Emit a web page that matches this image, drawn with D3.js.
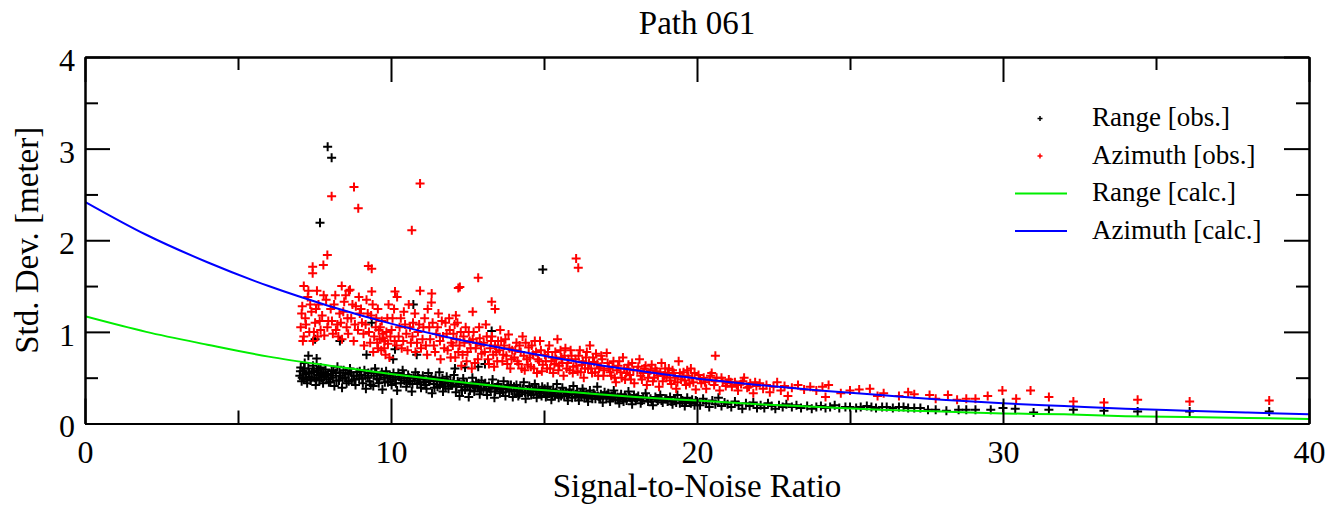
<!DOCTYPE html>
<html>
<head>
<meta charset="utf-8">
<script src="https://cdn.jsdelivr.net/npm/d3@7"></script>
<style>
  html, body { margin: 0; padding: 0; background: #ffffff; }
  svg { display: block; }
  svg text { font-family: "Liberation Serif", "Times New Roman", Times, "Nimbus Roman", "DejaVu Serif", serif !important; fill: #000; }
</style>
</head>
<body>
<svg id="chart" width="1332" height="507"></svg>
<script>
// ---- data -------------------------------------------------------------
const chartTitle = "Path 061";
const xTitle = "Signal-to-Noise Ratio";
const yTitle = "Std. Dev. [meter]";
const seriesNames = ["Range [obs.]", "Azimuth [obs.]", "Range [calc.]", "Azimuth [calc.]"];

const xMajorTicks = [0, 10, 20, 30, 40];
const xMinorTicks = [5, 15, 25, 35];
const yMajorTicks = [0, 1, 2, 3, 4];
const yMinorTicks = [0.5, 1.5, 2.5, 3.5];

// model curves, sampled every 2 SNR units
const calcSnr = [0, 2, 4, 6, 8, 10, 12, 14, 16, 18, 20, 22, 24, 26, 28, 30, 32, 34, 36, 38, 40];
const rangeCalc = [1.17, 1.00, 0.86, 0.73, 0.63, 0.54, 0.46, 0.39, 0.34, 0.29, 0.25, 0.21, 0.18, 0.15, 0.13, 0.11, 0.10, 0.08, 0.07, 0.06, 0.05];
const azimuthCalc = [2.42, 2.06, 1.76, 1.50, 1.28, 1.09, 0.93, 0.80, 0.68, 0.58, 0.49, 0.42, 0.36, 0.31, 0.26, 0.22, 0.19, 0.16, 0.14, 0.12, 0.10];

// observed range std. dev. [snr, meter]
const rangeObs = [
  [7.02,0.52],[7.05,0.61],[7.08,0.46],[7.12,0.57],[7.15,0.49],[7.18,0.66],[7.22,0.54],[7.26,0.44],[7.3,0.6],[7.33,0.51],[7.37,0.47],[7.41,0.56],[7.45,0.63],[7.5,0.5],[7.54,0.42],[7.58,0.58],[7.62,0.53],[7.66,0.47],[7.7,0.61],[7.74,0.55],[7.78,0.44],[7.82,0.51],[7.86,0.59],[7.9,0.48],[7.95,0.54],
  [7.04,0.57],[7.1,0.5],[7.16,0.6],[7.24,0.48],[7.32,0.55],[7.4,0.5],[7.48,0.57],[7.56,0.48],[7.64,0.6],[7.72,0.5],[7.8,0.56],[7.88,0.53],[7.97,0.45],
  [8.02,0.45],[8.06,0.57],[8.1,0.5],[8.15,0.41],[8.2,0.55],[8.25,0.62],[8.3,0.47],[8.35,0.52],[8.4,0.39],[8.45,0.58],[8.5,0.5],[8.55,0.44],[8.6,0.54],[8.66,0.6],[8.72,0.47],[8.78,0.52],[8.84,0.42],[8.9,0.56],[8.96,0.49],
  [8.04,0.52],[8.12,0.58],[8.22,0.47],[8.32,0.56],[8.42,0.49],[8.52,0.55],[8.62,0.46],[8.7,0.56],[8.8,0.48],[8.88,0.52],[8.98,0.57],
  [9.03,0.53],[9.08,0.44],[9.13,0.58],[9.18,0.38],[9.24,0.5],[9.3,0.46],[9.36,0.55],[9.42,0.41],[9.48,0.6],[9.54,0.49],[9.6,0.44],[9.66,0.53],[9.72,0.37],[9.78,0.5],[9.84,0.57],[9.9,0.45],[9.96,0.52],
  [9.06,0.49],[9.16,0.52],[9.26,0.55],[9.34,0.42],[9.44,0.52],[9.52,0.55],[9.62,0.48],[9.7,0.56],[9.8,0.45],[9.88,0.52],[9.98,0.46],
  [10.02,0.42],[10.08,0.55],[10.14,0.48],[10.2,0.36],[10.26,0.51],[10.32,0.44],[10.38,0.58],[10.44,0.47],[10.5,0.4],[10.56,0.53],[10.62,0.46],[10.68,0.35],[10.74,0.5],[10.8,0.56],[10.86,0.43],[10.92,0.49],[10.98,0.39],
  [10.06,0.5],[10.16,0.44],[10.24,0.55],[10.34,0.49],[10.42,0.53],[10.52,0.45],[10.6,0.5],[10.7,0.43],[10.78,0.47],[10.88,0.52],[10.96,0.45],
  [11.04,0.52],[11.1,0.45],[11.16,0.38],[11.22,0.55],[11.28,0.48],[11.34,0.33],[11.4,0.43],[11.46,0.5],[11.52,0.4],[11.58,0.56],[11.64,0.46],[11.7,0.35],[11.76,0.44],[11.82,0.51],[11.88,0.38],[11.94,0.47],
  [11.06,0.48],[11.14,0.42],[11.24,0.46],[11.32,0.51],[11.42,0.39],[11.5,0.46],[11.6,0.42],[11.68,0.49],[11.78,0.4],[11.86,0.45],[11.96,0.42],
  [12.0,0.42],[12.06,0.53],[12.12,0.34],[12.18,0.46],[12.24,0.3],[12.3,0.4],[12.36,0.49],[12.42,0.37],[12.48,0.44],[12.54,0.29],[12.6,0.41],[12.66,0.5],[12.72,0.35],[12.78,0.45],[12.84,0.39],[12.9,0.32],[12.96,0.47],
  [12.04,0.46],[12.14,0.4],[12.22,0.44],[12.32,0.36],[12.4,0.43],[12.5,0.4],[12.58,0.36],[12.68,0.42],[12.76,0.4],[12.86,0.44],[12.94,0.37],
  [13.02,0.38],[13.08,0.44],[13.14,0.31],[13.2,0.41],[13.26,0.35],[13.32,0.48],[13.38,0.28],[13.44,0.39],[13.5,0.43],[13.56,0.33],[13.62,0.37],[13.68,0.46],[13.74,0.3],[13.8,0.4],[13.86,0.35],[13.92,0.42],[13.98,0.29],
  [13.04,0.42],[13.12,0.36],[13.22,0.38],[13.3,0.42],[13.4,0.35],[13.48,0.4],[13.58,0.38],[13.66,0.34],[13.76,0.38],[13.84,0.42],[13.94,0.36],
  [14.04,0.36],[14.1,0.42],[14.16,0.3],[14.22,0.39],[14.28,0.34],[14.34,0.45],[14.4,0.27],[14.46,0.37],[14.52,0.41],[14.58,0.31],[14.64,0.35],[14.7,0.43],[14.76,0.28],[14.82,0.38],[14.88,0.33],[14.94,0.4],
  [14.02,0.4],[14.12,0.35],[14.2,0.32],[14.3,0.38],[14.38,0.34],[14.48,0.33],[14.56,0.37],[14.66,0.32],[14.74,0.37],[14.84,0.35],[14.92,0.3],
  [15.0,0.35],[15.06,0.29],[15.12,0.4],[15.18,0.33],[15.24,0.26],[15.3,0.37],[15.36,0.31],[15.42,0.43],[15.48,0.28],[15.54,0.35],[15.6,0.39],[15.66,0.3],[15.72,0.34],[15.78,0.25],[15.84,0.37],[15.9,0.32],[15.96,0.41],
  [15.02,0.38],[15.1,0.32],[15.2,0.35],[15.28,0.3],[15.38,0.34],[15.46,0.32],[15.56,0.3],[15.64,0.35],[15.74,0.31],[15.82,0.33],[15.92,0.28],
  [16.02,0.29],[16.08,0.35],[16.14,0.25],[16.2,0.33],[16.26,0.38],[16.32,0.28],[16.38,0.31],[16.44,0.24],[16.5,0.36],[16.56,0.3],[16.62,0.33],[16.68,0.27],[16.74,0.4],[16.8,0.29],[16.86,0.32],[16.92,0.23],[16.98,0.34],
  [16.04,0.32],[16.12,0.3],[16.22,0.3],[16.3,0.34],[16.4,0.29],[16.48,0.32],[16.58,0.27],[16.66,0.31],[16.76,0.3],[16.84,0.27],[16.94,0.3],
  [17.04,0.28],[17.1,0.33],[17.16,0.24],[17.22,0.3],[17.28,0.36],[17.34,0.26],[17.4,0.29],[17.46,0.22],[17.52,0.32],[17.58,0.27],[17.64,0.3],[17.7,0.25],[17.76,0.35],[17.82,0.28],[17.88,0.21],[17.94,0.31],
  [17.06,0.31],[17.14,0.27],[17.24,0.29],[17.32,0.31],[17.42,0.26],[17.5,0.29],[17.6,0.24],[17.68,0.28],[17.78,0.3],[17.86,0.25],[17.96,0.28],
  [18.0,0.26],[18.08,0.3],[18.16,0.22],[18.24,0.28],[18.32,0.33],[18.4,0.24],[18.48,0.27],[18.56,0.2],[18.64,0.29],[18.72,0.25],[18.8,0.31],[18.88,0.23],[18.96,0.27],
  [18.04,0.28],[18.2,0.25],[18.36,0.28],[18.52,0.24],[18.68,0.27],[18.84,0.25],[19.0,0.27],[19.16,0.24],[19.32,0.23],[19.48,0.27],[19.64,0.24],[19.8,0.22],[19.96,0.25],
  [19.04,0.24],[19.12,0.29],[19.2,0.21],[19.28,0.26],[19.36,0.31],[19.44,0.22],[19.52,0.25],[19.6,0.19],[19.68,0.28],[19.76,0.23],[19.84,0.26],[19.92,0.2],
  [20.0,0.24],[20.1,0.2],[20.2,0.27],[20.3,0.22],[20.4,0.18],[20.5,0.25],[20.6,0.21],[20.7,0.28],[20.8,0.19],[20.9,0.23],
  [21.0,0.21],[21.12,0.18],[21.24,0.24],[21.36,0.2],[21.48,0.16],[21.6,0.22],[21.72,0.19],[21.84,0.23],[21.96,0.17],
  [22.08,0.2],[22.2,0.17],[22.32,0.22],[22.44,0.19],[22.56,0.16],[22.68,0.2],[22.8,0.18],[22.92,0.21],
  [23.1,0.18],[23.25,0.2],[23.4,0.17],[23.6,0.19],[23.75,0.16],[23.9,0.18],[24.05,0.19],[24.2,0.17],[24.35,0.18],[24.5,0.2],[24.65,0.17],[24.85,0.18],[25.0,0.18],[25.2,0.17],[25.35,0.18],[25.55,0.19],[25.7,0.18],[25.85,0.17],[26.05,0.18],[26.2,0.18],[26.4,0.17],[26.6,0.18],[26.75,0.18],[26.9,0.17],[27.1,0.17],[27.3,0.17],[27.55,0.15],[27.8,0.15],[28.15,0.14],[28.55,0.15],[28.8,0.15],[29.1,0.15],[29.6,0.15],
  [30.0,0.17],[30.4,0.16],[31.0,0.12],[31.5,0.15],[32.3,0.15],[33.3,0.14],[34.4,0.13],[36.1,0.13],[38.7,0.13],
  [7.93,3.02],[8.06,2.9],[7.68,2.19],[14.96,1.68],[10.73,1.3],[9.37,1.1],[13.29,1.01],[7.52,0.92],[8.33,0.9],[10.13,0.81],[9.2,0.75],[10.84,0.75],[7.3,0.74],[10.07,0.7],[7.57,0.71],[12.09,0.6],[12.42,0.61],[12.85,0.62],[13.07,0.65]
];

// observed azimuth std. dev. [snr, meter]
const azimuthObs = [
  [7.05,1.05],[7.1,1.28],[7.15,0.95],[7.2,1.15],[7.28,1.38],[7.33,1.0],[7.4,1.22],[7.45,0.9],[7.52,1.1],[7.58,1.45],[7.63,1.3],[7.7,1.02],[7.75,1.18],[7.82,0.96],[7.88,1.35],[7.95,1.12],[7.15,1.5],[7.3,1.45],
  [7.08,1.2],[7.22,1.08],[7.36,1.3],[7.48,1.0],[7.55,1.25],[7.67,1.12],[7.8,1.4],[7.92,1.05],[7.12,0.9],[7.6,0.95],
  [8.03,1.25],[8.1,0.98],[8.18,1.4],[8.25,1.08],[8.32,1.2],[8.4,0.92],[8.47,1.33],[8.55,1.05],[8.62,1.45],[8.7,1.15],[8.78,0.9],[8.85,1.28],[8.92,1.02],[8.98,1.2],[8.39,1.5],[8.66,1.46],
  [8.07,1.12],[8.14,1.3],[8.28,0.95],[8.36,1.1],[8.44,1.22],[8.52,1.4],[8.6,0.98],[8.74,1.3],[8.82,1.08],[8.95,1.38],[8.2,1.02],[8.58,1.15],
  [9.05,1.1],[9.12,0.85],[9.2,1.35],[9.28,1.0],[9.35,1.18],[9.42,0.78],[9.5,1.05],[9.57,1.25],[9.63,0.92],[9.7,1.12],[9.78,0.82],[9.85,1.0],[9.92,1.3],[9.98,0.95],[9.37,1.44],
  [9.45,0.95],[9.55,0.88],[9.6,1.02],[9.68,0.8],[9.75,0.93],[9.82,0.75],[9.9,0.87],[9.95,0.72],
  [9.02,1.25],[9.1,0.98],[9.17,1.08],[9.24,1.2],[9.32,0.88],[9.4,1.3],[9.52,1.15],[9.65,1.05],[9.72,0.98],[9.88,1.15],[9.58,0.82],[9.8,0.9],
  [10.05,1.15],[10.12,0.9],[10.2,1.38],[10.28,1.05],[10.35,0.82],[10.42,1.22],[10.5,0.98],[10.58,1.3],[10.65,0.88],[10.72,1.1],[10.8,0.78],[10.88,1.0],[10.95,1.45],[10.13,1.44],
  [10.02,1.02],[10.1,1.25],[10.18,0.85],[10.25,0.95],[10.32,1.15],[10.4,0.9],[10.46,1.08],[10.54,0.8],[10.62,1.05],[10.7,0.95],[10.78,1.2],[10.85,0.88],[10.92,1.08],[10.98,0.82],
  [11.03,0.92],[11.1,1.15],[11.18,0.75],[11.25,1.05],[11.32,1.32],[11.4,0.85],[11.48,0.98],[11.55,1.2],[11.62,0.7],[11.7,0.95],[11.78,1.1],[11.85,0.8],[11.92,1.02],[11.97,0.88],[11.33,1.42],
  [11.06,1.05],[11.14,0.85],[11.2,1.25],[11.28,0.92],[11.36,1.1],[11.44,0.78],[11.52,1.05],[11.6,0.9],[11.66,1.12],[11.74,0.82],[11.82,0.98],[11.9,1.15],[11.95,0.72],
  [12.04,0.98],[12.1,0.72],[12.17,1.1],[12.24,0.85],[12.3,0.63],[12.37,0.95],[12.44,1.05],[12.5,0.78],[12.57,0.9],[12.64,0.6],[12.7,1.0],[12.77,0.82],[12.84,0.7],[12.9,0.93],[12.96,0.76],[12.2,1.48],
  [12.02,0.85],[12.08,1.08],[12.14,0.92],[12.2,0.78],[12.28,1.0],[12.34,0.75],[12.4,0.88],[12.47,0.68],[12.54,1.0],[12.6,0.82],[12.67,0.92],[12.74,0.66],[12.8,0.88],[12.88,1.05],[12.94,0.85],
  [13.03,0.88],[13.1,1.08],[13.17,0.7],[13.24,0.82],[13.3,0.95],[13.37,0.62],[13.44,0.78],[13.5,0.9],[13.57,1.02],[13.64,0.68],[13.7,0.85],[13.77,0.74],[13.84,0.97],[13.9,0.6],[13.96,0.8],
  [13.06,0.78],[13.13,0.95],[13.2,0.65],[13.27,0.9],[13.34,0.75],[13.4,0.85],[13.47,0.68],[13.54,0.8],[13.6,0.9],[13.67,0.75],[13.74,0.92],[13.8,0.65],[13.87,0.82],[13.94,0.7],
  [14.03,0.72],[14.1,0.88],[14.17,0.65],[14.24,0.78],[14.3,0.95],[14.37,0.58],[14.44,0.7],[14.5,0.83],[14.57,0.62],[14.64,0.75],[14.7,0.9],[14.77,0.55],[14.84,0.68],[14.9,0.8],[14.96,0.64],
  [14.06,0.8],[14.13,0.68],[14.2,0.85],[14.27,0.6],[14.34,0.74],[14.4,0.88],[14.47,0.64],[14.54,0.72],[14.6,0.85],[14.67,0.6],[14.74,0.78],[14.8,0.7],[14.87,0.9],[14.93,0.57],
  [15.03,0.75],[15.1,0.6],[15.17,0.85],[15.24,0.68],[15.3,0.55],[15.37,0.78],[15.44,0.92],[15.5,0.63],[15.57,0.72],[15.64,0.52],[15.7,0.82],[15.77,0.66],[15.84,0.58],[15.9,0.74],[15.96,0.62],
  [15.06,0.68],[15.13,0.78],[15.2,0.6],[15.27,0.72],[15.34,0.65],[15.4,0.7],[15.47,0.58],[15.54,0.8],[15.6,0.66],[15.67,0.74],[15.74,0.6],[15.8,0.7],[15.87,0.8],[15.94,0.55],
  [16.03,0.7],[16.1,0.57],[16.17,0.8],[16.24,0.64],[16.3,0.5],[16.37,0.72],[16.44,0.6],[16.5,0.85],[16.57,0.55],[16.64,0.67],[16.7,0.76],[16.77,0.52],[16.84,0.62],[16.9,0.7],[16.96,0.58],
  [16.06,0.63],[16.13,0.74],[16.2,0.56],[16.27,0.68],[16.34,0.6],[16.4,0.78],[16.47,0.66],[16.54,0.6],[16.6,0.72],[16.67,0.56],[16.74,0.65],[16.8,0.6],[16.87,0.74],[16.94,0.52],
  [17.05,0.77],[17.12,0.6],[17.2,0.52],[17.27,0.68],[17.35,0.45],[17.42,0.63],[17.5,0.56],[17.58,0.72],[17.65,0.48],[17.72,0.6],[17.8,0.53],[17.88,0.66],[17.95,0.44],
  [17.08,0.66],[17.16,0.56],[17.24,0.62],[17.31,0.5],[17.38,0.58],[17.46,0.68],[17.54,0.5],[17.62,0.6],[17.69,0.55],[17.76,0.64],[17.84,0.48],[17.92,0.58],
  [18.05,0.58],[18.12,0.7],[18.2,0.48],[18.28,0.6],[18.36,0.42],[18.44,0.55],[18.52,0.64],[18.6,0.5],[18.68,0.57],[18.76,0.4],[18.84,0.66],[18.92,0.52],
  [18.08,0.62],[18.16,0.52],[18.24,0.55],[18.32,0.63],[18.4,0.5],[18.48,0.58],[18.56,0.46],[18.64,0.6],[18.72,0.52],[18.8,0.56],[18.88,0.46],[18.96,0.6],
  [19.0,0.5],[19.08,0.6],[19.16,0.43],[19.24,0.55],[19.32,0.38],[19.4,0.68],[19.48,0.48],[19.56,0.56],[19.64,0.42],[19.72,0.52],[19.8,0.6],[19.88,0.45],[19.96,0.37],
  [19.04,0.55],[19.12,0.47],[19.2,0.58],[19.28,0.5],[19.36,0.45],[19.44,0.55],[19.52,0.52],[19.6,0.47],[19.68,0.58],[19.76,0.44],[19.84,0.5],[19.92,0.55],
  [20.05,0.53],[20.14,0.44],[20.22,0.5],[20.3,0.38],[20.4,0.47],[20.48,0.55],[20.56,0.42],[20.64,0.5],[20.74,0.36],[20.84,0.46],[20.94,0.41],[20.6,0.74],
  [20.1,0.48],[20.26,0.45],[20.44,0.52],[20.6,0.46],[20.8,0.5],[20.98,0.44],[21.1,0.45],[21.3,0.42],[21.5,0.46],[21.7,0.4],[21.9,0.45],
  [21.04,0.48],[21.14,0.4],[21.24,0.45],[21.34,0.36],[21.44,0.43],[21.54,0.5],[21.64,0.39],[21.74,0.44],[21.84,0.33],[21.94,0.41],
  [22.05,0.44],[22.16,0.38],[22.27,0.42],[22.38,0.34],[22.5,0.4],[22.62,0.45],[22.74,0.36],[22.86,0.41],[22.97,0.3],
  [23.1,0.39],[23.3,0.42],[23.5,0.37],[23.7,0.4],[23.9,0.36],
  [24.1,0.4],[24.3,0.42],[24.2,0.29],[24.7,0.33],[25.0,0.36],[25.3,0.37],[25.65,0.38],[25.9,0.3],[26.1,0.33],[26.6,0.3],[26.9,0.34],[27.1,0.32],[27.6,0.31],[27.8,0.27],[28.2,0.31],[28.5,0.26],[28.8,0.27],[29.1,0.27],[29.5,0.3],[29.98,0.36],[30.43,0.27],[30.9,0.36],[31.5,0.29],[32.3,0.24],[33.3,0.23],[34.4,0.26],[36.1,0.24],[38.7,0.25],
  [8.79,2.58],[8.06,2.48],[8.93,2.35],[10.95,2.62],[10.68,2.11],[7.92,1.84],[7.44,1.71],[7.44,1.64],[7.79,1.73],[9.26,1.72],[9.37,1.69],[16.05,1.8],[16.12,1.7],[12.85,1.59],[12.25,1.49],[13.29,1.33],[12.12,1.18],[12.67,1.22],[13.4,1.25]
];

const seriesColors = ["#000000", "#ff0000", "#00ee00", "#0000ff"];

// ---- layout -----------------------------------------------------------
const plot = { left: 85, right: 1309, top: 57, bottom: 423.5 };
const svg = d3.select("#chart");

const x = d3.scaleLinear().domain([0, 40]).range([plot.left, plot.right]);
const y = d3.scaleLinear().domain([0, 4]).range([plot.bottom, plot.top]);

svg.append("defs").append("clipPath").attr("id", "plot-clip")
  .append("rect")
  .attr("x", plot.left).attr("y", plot.top)
  .attr("width", plot.right - plot.left).attr("height", plot.bottom - plot.top);

// ---- observations (plus markers) --------------------------------------
const plusPath = r => `M${-r},0H${r}M0,${-r}V${r}`;

function drawObs(data, color) {
  svg.append("g").attr("clip-path", "url(#plot-clip)")
    .selectAll("path").data(data).join("path")
    .attr("transform", d => `translate(${x(d[0])},${y(d[1])})`)
    .attr("d", plusPath(4.5))
    .attr("fill", "none")
    .attr("stroke", color)
    .attr("stroke-width", 2);
}
drawObs(rangeObs, seriesColors[0]);
drawObs(azimuthObs, seriesColors[1]);

// ---- calculated curves ------------------------------------------------
const line = d3.line().curve(d3.curveMonotoneX).x(d => x(d[0])).y(d => y(d[1]));
function drawCalc(values, color) {
  svg.append("path")
    .attr("clip-path", "url(#plot-clip)")
    .datum(calcSnr.map((s, i) => [s, values[i]]))
    .attr("d", line)
    .attr("fill", "none")
    .attr("stroke", color)
    .attr("stroke-width", 2);
}
drawCalc(rangeCalc, seriesColors[2]);
drawCalc(azimuthCalc, seriesColors[3]);

// ---- axes (ticks point inward on all four sides) ----------------------
function styleAxis(g) {
  g.attr("font-family", null);
  g.selectAll("path.domain").attr("stroke", "#000").attr("stroke-width", 2);
  g.selectAll(".tick line").attr("stroke", "#000").attr("stroke-width", 2);
  g.selectAll(".tick text")
    .style("font-size", "32px")
    .attr("fill", "#000");
}

// bottom
svg.append("g").attr("transform", `translate(0,${plot.bottom})`)
  .call(d3.axisBottom(x).tickValues(xMajorTicks).tickFormat(d3.format("d"))
    .tickSize(-25).tickSizeOuter(0).tickPadding(17))
  .call(styleAxis);
svg.append("g").attr("transform", `translate(0,${plot.bottom})`)
  .call(d3.axisBottom(x).tickValues(xMinorTicks).tickFormat("")
    .tickSize(-13).tickSizeOuter(0))
  .call(styleAxis);
// top
svg.append("g").attr("transform", `translate(0,${plot.top})`)
  .call(d3.axisTop(x).tickValues(xMajorTicks).tickFormat("")
    .tickSize(-25).tickSizeOuter(0))
  .call(styleAxis);
svg.append("g").attr("transform", `translate(0,${plot.top})`)
  .call(d3.axisTop(x).tickValues(xMinorTicks).tickFormat("")
    .tickSize(-13).tickSizeOuter(0))
  .call(styleAxis);
// left
svg.append("g").attr("transform", `translate(${plot.left},0)`)
  .call(d3.axisLeft(y).tickValues(yMajorTicks).tickFormat(d3.format("d"))
    .tickSize(-25).tickSizeOuter(0).tickPadding(10))
  .call(styleAxis)
  .call(g => g.selectAll(".tick text").attr("dy", "0.42em"));
svg.append("g").attr("transform", `translate(${plot.left},0)`)
  .call(d3.axisLeft(y).tickValues(yMinorTicks).tickFormat("")
    .tickSize(-13).tickSizeOuter(0))
  .call(styleAxis);
// right
svg.append("g").attr("transform", `translate(${plot.right},0)`)
  .call(d3.axisRight(y).tickValues(yMajorTicks).tickFormat("")
    .tickSize(-25).tickSizeOuter(0))
  .call(styleAxis);
svg.append("g").attr("transform", `translate(${plot.right},0)`)
  .call(d3.axisRight(y).tickValues(yMinorTicks).tickFormat("")
    .tickSize(-13).tickSizeOuter(0))
  .call(styleAxis);

// ---- titles -----------------------------------------------------------
const midX = (plot.left + plot.right) / 2;
svg.append("text").attr("x", midX).attr("y", 34)
  .attr("text-anchor", "middle").style("font-size", "33px").text(chartTitle);
svg.append("text").attr("x", midX).attr("y", 497)
  .attr("text-anchor", "middle").style("font-size", "33px").text(xTitle);
svg.append("text")
  .attr("transform", `translate(38,${(plot.top + plot.bottom) / 2}) rotate(-90)`)
  .attr("text-anchor", "middle").style("font-size", "33px").text(yTitle);

// ---- legend -----------------------------------------------------------
const legendRows = [126, 163.5, 201, 238.5];
const legend = svg.append("g");
seriesNames.forEach((name, i) => {
  const by = legendRows[i];
  const cy = by - 7.5;
  if (i < 2) {
    legend.append("path")
      .attr("transform", `translate(1040,${cy})`)
      .attr("d", plusPath(2.5))
      .attr("fill", "none").attr("stroke", seriesColors[i]).attr("stroke-width", 1.5);
  } else {
    legend.append("line")
      .attr("x1", 1015).attr("x2", 1067).attr("y1", cy).attr("y2", cy)
      .attr("stroke", seriesColors[i]).attr("stroke-width", 2);
  }
  legend.append("text").attr("x", 1092).attr("y", by)
    .style("font-size", "27px").text(name);
});
</script>
</body>
</html>
